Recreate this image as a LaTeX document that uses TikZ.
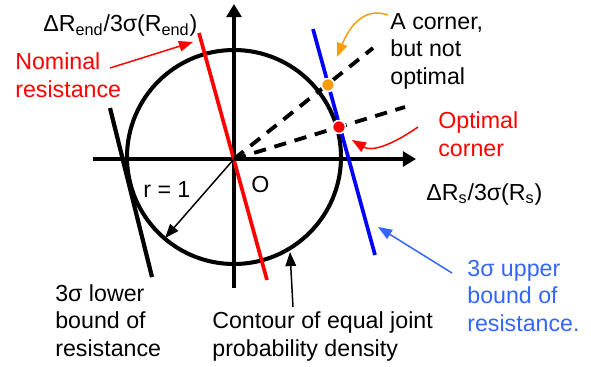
\documentclass[tikz,border=0pt]{standalone}
\usepackage{fontspec}
\setmainfont{Liberation Sans}
\usetikzlibrary{arrows.meta}
\definecolor{cornerorange}{RGB}{245,158,11}
\definecolor{boundblue}{RGB}{51,102,255}
\begin{document}
\begin{tikzpicture}[x=0.02cm,y=-0.02cm,
	every node/.style={inner sep=0pt,font=\fontsize{13.2}{15.5}\selectfont,align=left},
	axis/.style={line width=2.4pt,-{Triangle[length=7.5pt,width=8.5pt]}},
	bound/.style={line width=2.1pt},
	ray/.style={line width=2.2pt,dash pattern=on 7pt off 5pt},
	pointer/.style={line width=0.85pt,-{Triangle[length=8pt,width=6pt]}},
	cornerdot/.style={draw=white,line width=0.9pt}]
	\useasboundingbox (0,0) rectangle (591,366);
	\coordinate (O) at (234,159);
	\coordinate (ctr) at (234,157);
	\coordinate (cornerpt) at (328,85);
	\coordinate (optpt) at (339,127);
	% contour and axes
	\draw [line width=2.3pt] (ctr) circle [radius=107];
	\draw [axis] (93,159) -- (416,159);
	\draw [axis] (234,288) -- (234,4);
	% bounds of resistance
	\draw [bound,red] (199,33) -- (267,280);
	\draw [line width=2.4pt] (110,108) -- (152,277);
	\draw [bound,blue] (313,29) -- (375,255);
	\draw [ray] (O) -- (373,48);
	\draw [ray] (O) -- (405,107);
	\filldraw [cornerdot,fill=cornerorange] (cornerpt) circle [radius=6.5];
	\filldraw [cornerdot,fill=red] (optpt) circle [radius=6.5];
	% labels (base = last line)
	\node [anchor=base west] (yaxis) at (43,31) {ΔR\textsubscript{end}/3σ(R\textsubscript{end})};
	\node [anchor=base west] (xaxis) at (426,200) {ΔR\textsubscript{s}/3σ(R\textsubscript{s})};
	\node [anchor=base west] (olabel) at (251,192) {O};
	\node [anchor=base west] (rlabel) at (143,197) {r = 1};
	\node [anchor=base west,red] (nominal) at (15,97) {Nominal\\resistance};
	\node [anchor=base west] (corner) at (390,84) {A corner,\\but not\\optimal};
	\node [anchor=base west,red] (optimal) at (438,156) {Optimal\\corner};
	\node [anchor=base west] (lower) at (55,356) {3σ lower\\bound of\\resistance};
	\node [anchor=base west] (contour) at (212,356) {Contour of equal joint\\probability density};
	\node [anchor=base west,boundblue] (upper) at (467,331) {3σ upper\\bound of\\resistance.};
	% pointers
	\coordinate (nomtail) at (110,68);
	\coordinate (cornertail) at (388,15);
	\coordinate (opttail) at (418,127);
	\coordinate (contourtail) at (293,307);
	\coordinate (uppertail) at (452,273);
	\draw [pointer,red] (nomtail) -- (193,42);
	\draw [pointer,cornerorange] (cornertail) .. controls (362,6) and (348,30) .. (337,57);
	\draw [pointer,red] (opttail) .. controls (392,145) and (372,152) .. (352,140);
	\draw [pointer] (O) -- (165,238);
	\draw [pointer] (contourtail) -- (290,252);
	\draw [pointer,boundblue] (uppertail) -- (378,227);
\end{tikzpicture}
\end{document}
